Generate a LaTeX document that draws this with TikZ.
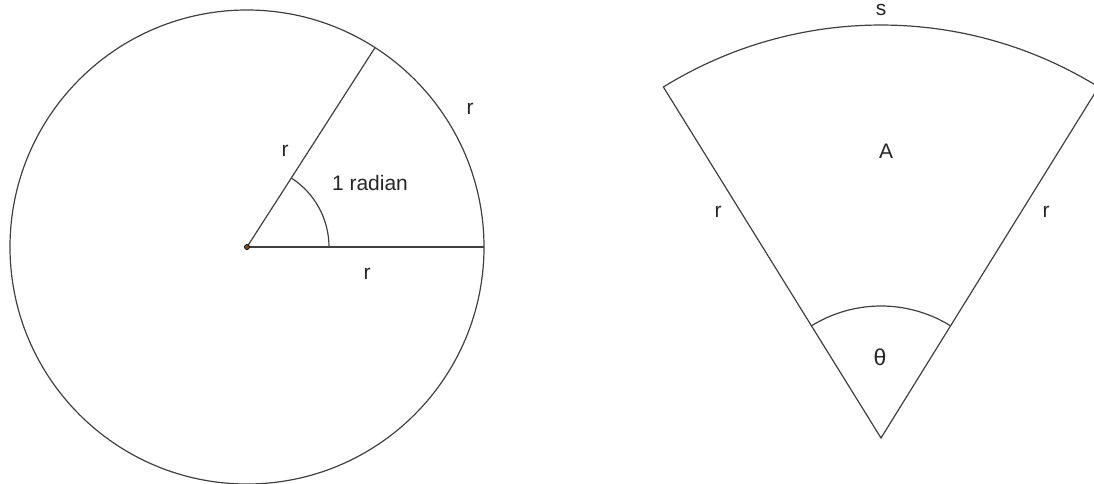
\documentclass[tikz,border=0pt]{standalone}
\usepackage{fontspec}
\setmainfont{Liberation Sans}
\usetikzlibrary{calc}
\begin{document}
\begin{tikzpicture}[x=1pt,y=-1pt,
  lbl/.style={font=\fontsize{21}{25}\selectfont, inner sep=0pt, text=black!85},
  ln/.style={draw=black!75, line width=1.2pt}]
\useasboundingbox (0,0) rectangle (1094,483);
\begin{scope}
\clip (0,0) rectangle (1094,483);
% circle
\coordinate (O) at (247,247);
\coordinate (P1) at (484,247);
\coordinate (P2) at ($(O)+(-57.2958:237)$);
\draw[ln] (O) circle[radius=237];
\draw[ln] (O) -- (P1);
\draw[ln] (O) -- (P2);
\draw[ln] ($(O)+(82,0)$) arc[start angle=0, end angle=-57.2958, radius=82];
\fill[brown!60!black] (O) circle[radius=2.6];
\draw[black, line width=0.6pt] (O) circle[radius=2.6];
\node[lbl] (r1) at (285,151) {r};
\node[lbl] (rad) at (370,183) {1 radian};
\node[lbl] (r2) at (470,109) {r};
\node[lbl] (r3) at (367,274) {r};
% sector
\coordinate (C) at (881,438);
\coordinate (L) at ($(C)+(-121.8:413)$);
\coordinate (R) at ($(C)+(-58.2:413)$);
\draw[ln] (R) -- (C) -- (L) arc[start angle=-121.8, end angle=-58.2, radius=413];
\draw[ln] ($(C)+(-121.8:132)$) arc[start angle=-121.8, end angle=-58.2, radius=132];
\node[lbl] (s) at (881,10) {s};
\node[lbl] (A) at (886,151) {A};
\node[lbl] (r4) at (718,212) {r};
\node[lbl] (r5) at (1046,212) {r};
\node[lbl, font=\fontsize{23}{27}\selectfont] (th) at (880,357) {θ};
\end{scope}
\end{tikzpicture}
\end{document}
